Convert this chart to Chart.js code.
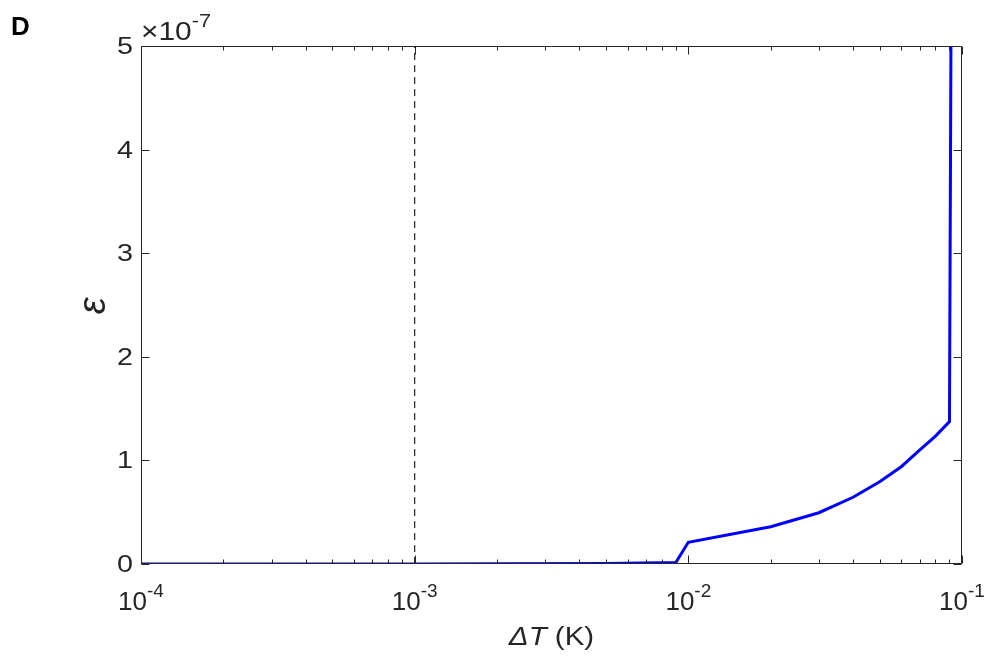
<!DOCTYPE html>
<html>
<head>
<meta charset="utf-8">
<script src="https://cdn.jsdelivr.net/npm/chart.js@4/dist/chart.umd.min.js"></script>
<style>
html,body{margin:0;padding:0;background:#fff;}
canvas{display:block;}
</style>
</head>
<body>
<canvas id="c" width="992" height="660"></canvas>
<script>
// ΔT (K) values
const deltaT = [1e-4, 1e-3, 2e-3, 5e-3, 9e-3, 0.01, 0.02, 0.03, 0.04, 0.05, 0.06, 0.07, 0.08, 0.09, 0.0912];
// ε values in units of 1e-7
const epsilonE7 = [0, 0, 0.002, 0.006, 0.015, 0.21, 0.36, 0.495, 0.644, 0.794, 0.939, 1.10, 1.235, 1.374, 5.3];
// reference line position
const refLineX = [1e-3, 1e-3];
const refLineY = [0, 5];
// tick labels
const xMajorExponents = [-4, -3, -2, -1];
const yTickLabels = ['0', '1', '2', '3', '4', '5'];

const AX = '#262626';
const FAM = '"Liberation Sans", Arial, sans-serif';

function textW(ctx, s, font, sx) {
  ctx.font = font;
  return ctx.measureText(s).width * sx;
}
function drawText(ctx, s, x, y, font, sx) {
  ctx.save();
  ctx.font = font;
  ctx.textAlign = 'left';
  ctx.textBaseline = 'alphabetic';
  ctx.translate(x, y);
  ctx.scale(sx, 1);
  ctx.fillText(s, 0, 0);
  ctx.restore();
}

const decor = {
  id: 'decor',
  afterDraw(chart) {
    const ctx = chart.ctx;
    const a = chart.chartArea;
    const xs = chart.scales.x, ys = chart.scales.y;
    const L = Math.round(a.left) + 0.5, R = Math.round(a.right) - 0.5;
    const T = Math.round(a.top) + 0.5, B = Math.round(a.bottom) - 0.5;
    ctx.save();
    ctx.strokeStyle = AX;
    ctx.lineWidth = 1;
    ctx.beginPath();
    ctx.rect(L, T, R - L, B - T);
    ctx.stroke();
    // x ticks
    ctx.beginPath();
    xMajorExponents.forEach((e, i) => {
      const base = Math.pow(10, e);
      const px = Math.round(xs.getPixelForValue(base)) + 0.5;
      ctx.moveTo(px, B); ctx.lineTo(px, B - 8);
      ctx.moveTo(px, T); ctx.lineTo(px, T + 8);
      if (i < xMajorExponents.length - 1) {
        for (let m = 2; m <= 9; m++) {
          const mx = Math.round(xs.getPixelForValue(m * base)) + 0.5;
          ctx.moveTo(mx, B); ctx.lineTo(mx, B - 4);
          ctx.moveTo(mx, T); ctx.lineTo(mx, T + 4);
        }
      }
    });
    // y ticks
    yTickLabels.forEach((lab) => {
      const py = Math.round(ys.getPixelForValue(Number(lab))) + 0.5;
      ctx.moveTo(L, py); ctx.lineTo(L + 8, py);
      ctx.moveTo(R, py); ctx.lineTo(R - 8, py);
    });
    ctx.stroke();

    ctx.fillStyle = AX;

    // y tick labels
    const yFont = '23px ' + FAM;
    const ySx = 1.25;
    yTickLabels.forEach((lab) => {
      const py = ys.getPixelForValue(Number(lab));
      const w = textW(ctx, lab, yFont, ySx);
      drawText(ctx, lab, 133 - w, py + 8, yFont, ySx);
    });

    // x tick labels with superscripts
    const baseFont = '26px ' + FAM;
    const supFont = '19px ' + FAM;
    xMajorExponents.forEach((e) => {
      const px = xs.getPixelForValue(Math.pow(10, e));
      const sup = '-' + Math.abs(e);
      const w1 = textW(ctx, '10', baseFont, 1);
      const w2 = textW(ctx, sup, supFont, 1);
      const x0 = px - (w1 + w2) / 2;
      drawText(ctx, '10', x0, 610, baseFont, 1);
      drawText(ctx, sup, x0 + w1, 597, supFont, 1);
    });

    // x axis title: ΔT (K)
    const tSx = 1.18;
    const itf = 'italic 25px ' + FAM;
    const nf = '25px ' + FAM;
    const t1 = '\u0394T', t2 = ' (K)';
    const wt1 = textW(ctx, t1, itf, tSx);
    const wt2 = textW(ctx, t2, nf, tSx);
    const cx = (a.left + a.right) / 2;
    const tx = cx - (wt1 + wt2) / 2;
    drawText(ctx, t1, tx, 645, itf, tSx);
    drawText(ctx, t2, tx + wt1, 645, nf, tSx);

    // y axis title: ε
    ctx.save();
    ctx.translate(105, 306);
    ctx.rotate(-Math.PI / 2);
    ctx.textAlign = 'center';
    ctx.font = 'italic 38px ' + FAM;
    ctx.fillText('\u03B5', 0, 0);
    ctx.restore();

    // exponent multiplier ×10^-7
    const mSx = 1.15;
    const mf = '26px ' + FAM;
    const m1 = '\u00D710';
    const wm = textW(ctx, m1, mf, mSx);
    drawText(ctx, m1, 141, 40, mf, mSx);
    drawText(ctx, '-7', 141 + wm, 27, '19px ' + FAM, mSx);

    // panel letter
    ctx.fillStyle = '#000';
    drawText(ctx, 'D', 11, 35, 'bold 26px ' + FAM, 1);
    ctx.restore();
  }
};

new Chart(document.getElementById('c'), {
  type: 'line',
  data: {
    datasets: [
      {
        data: deltaT.map((x, i) => ({ x: x, y: epsilonE7[i] })),
        borderColor: '#0000ff',
        borderWidth: 3,
        pointRadius: 0,
        tension: 0,
        fill: false
      },
      {
        data: refLineX.map((x, i) => ({ x: x, y: refLineY[i] })),
        borderColor: AX,
        borderWidth: 1.2,
        borderDash: [7, 5],
        pointRadius: 0,
        fill: false
      }
    ]
  },
  options: {
    responsive: false,
    animation: false,
    events: [],
    layout: { padding: { left: 0, top: 46, right: 30, bottom: 0 } },
    plugins: { legend: { display: false }, tooltip: { enabled: false } },
    scales: {
      x: {
        type: 'logarithmic',
        min: 1e-4,
        max: 0.1,
        afterFit(s) { s.height = 96; },
        ticks: { display: false },
        grid: { display: false },
        border: { display: false }
      },
      y: {
        type: 'linear',
        min: 0,
        max: 5,
        afterFit(s) { s.width = 141; },
        ticks: { display: false, stepSize: 1 },
        grid: { display: false, drawTicks: false },
        border: { display: false }
      }
    }
  },
  plugins: [decor]
});
</script>
</body>
</html>
